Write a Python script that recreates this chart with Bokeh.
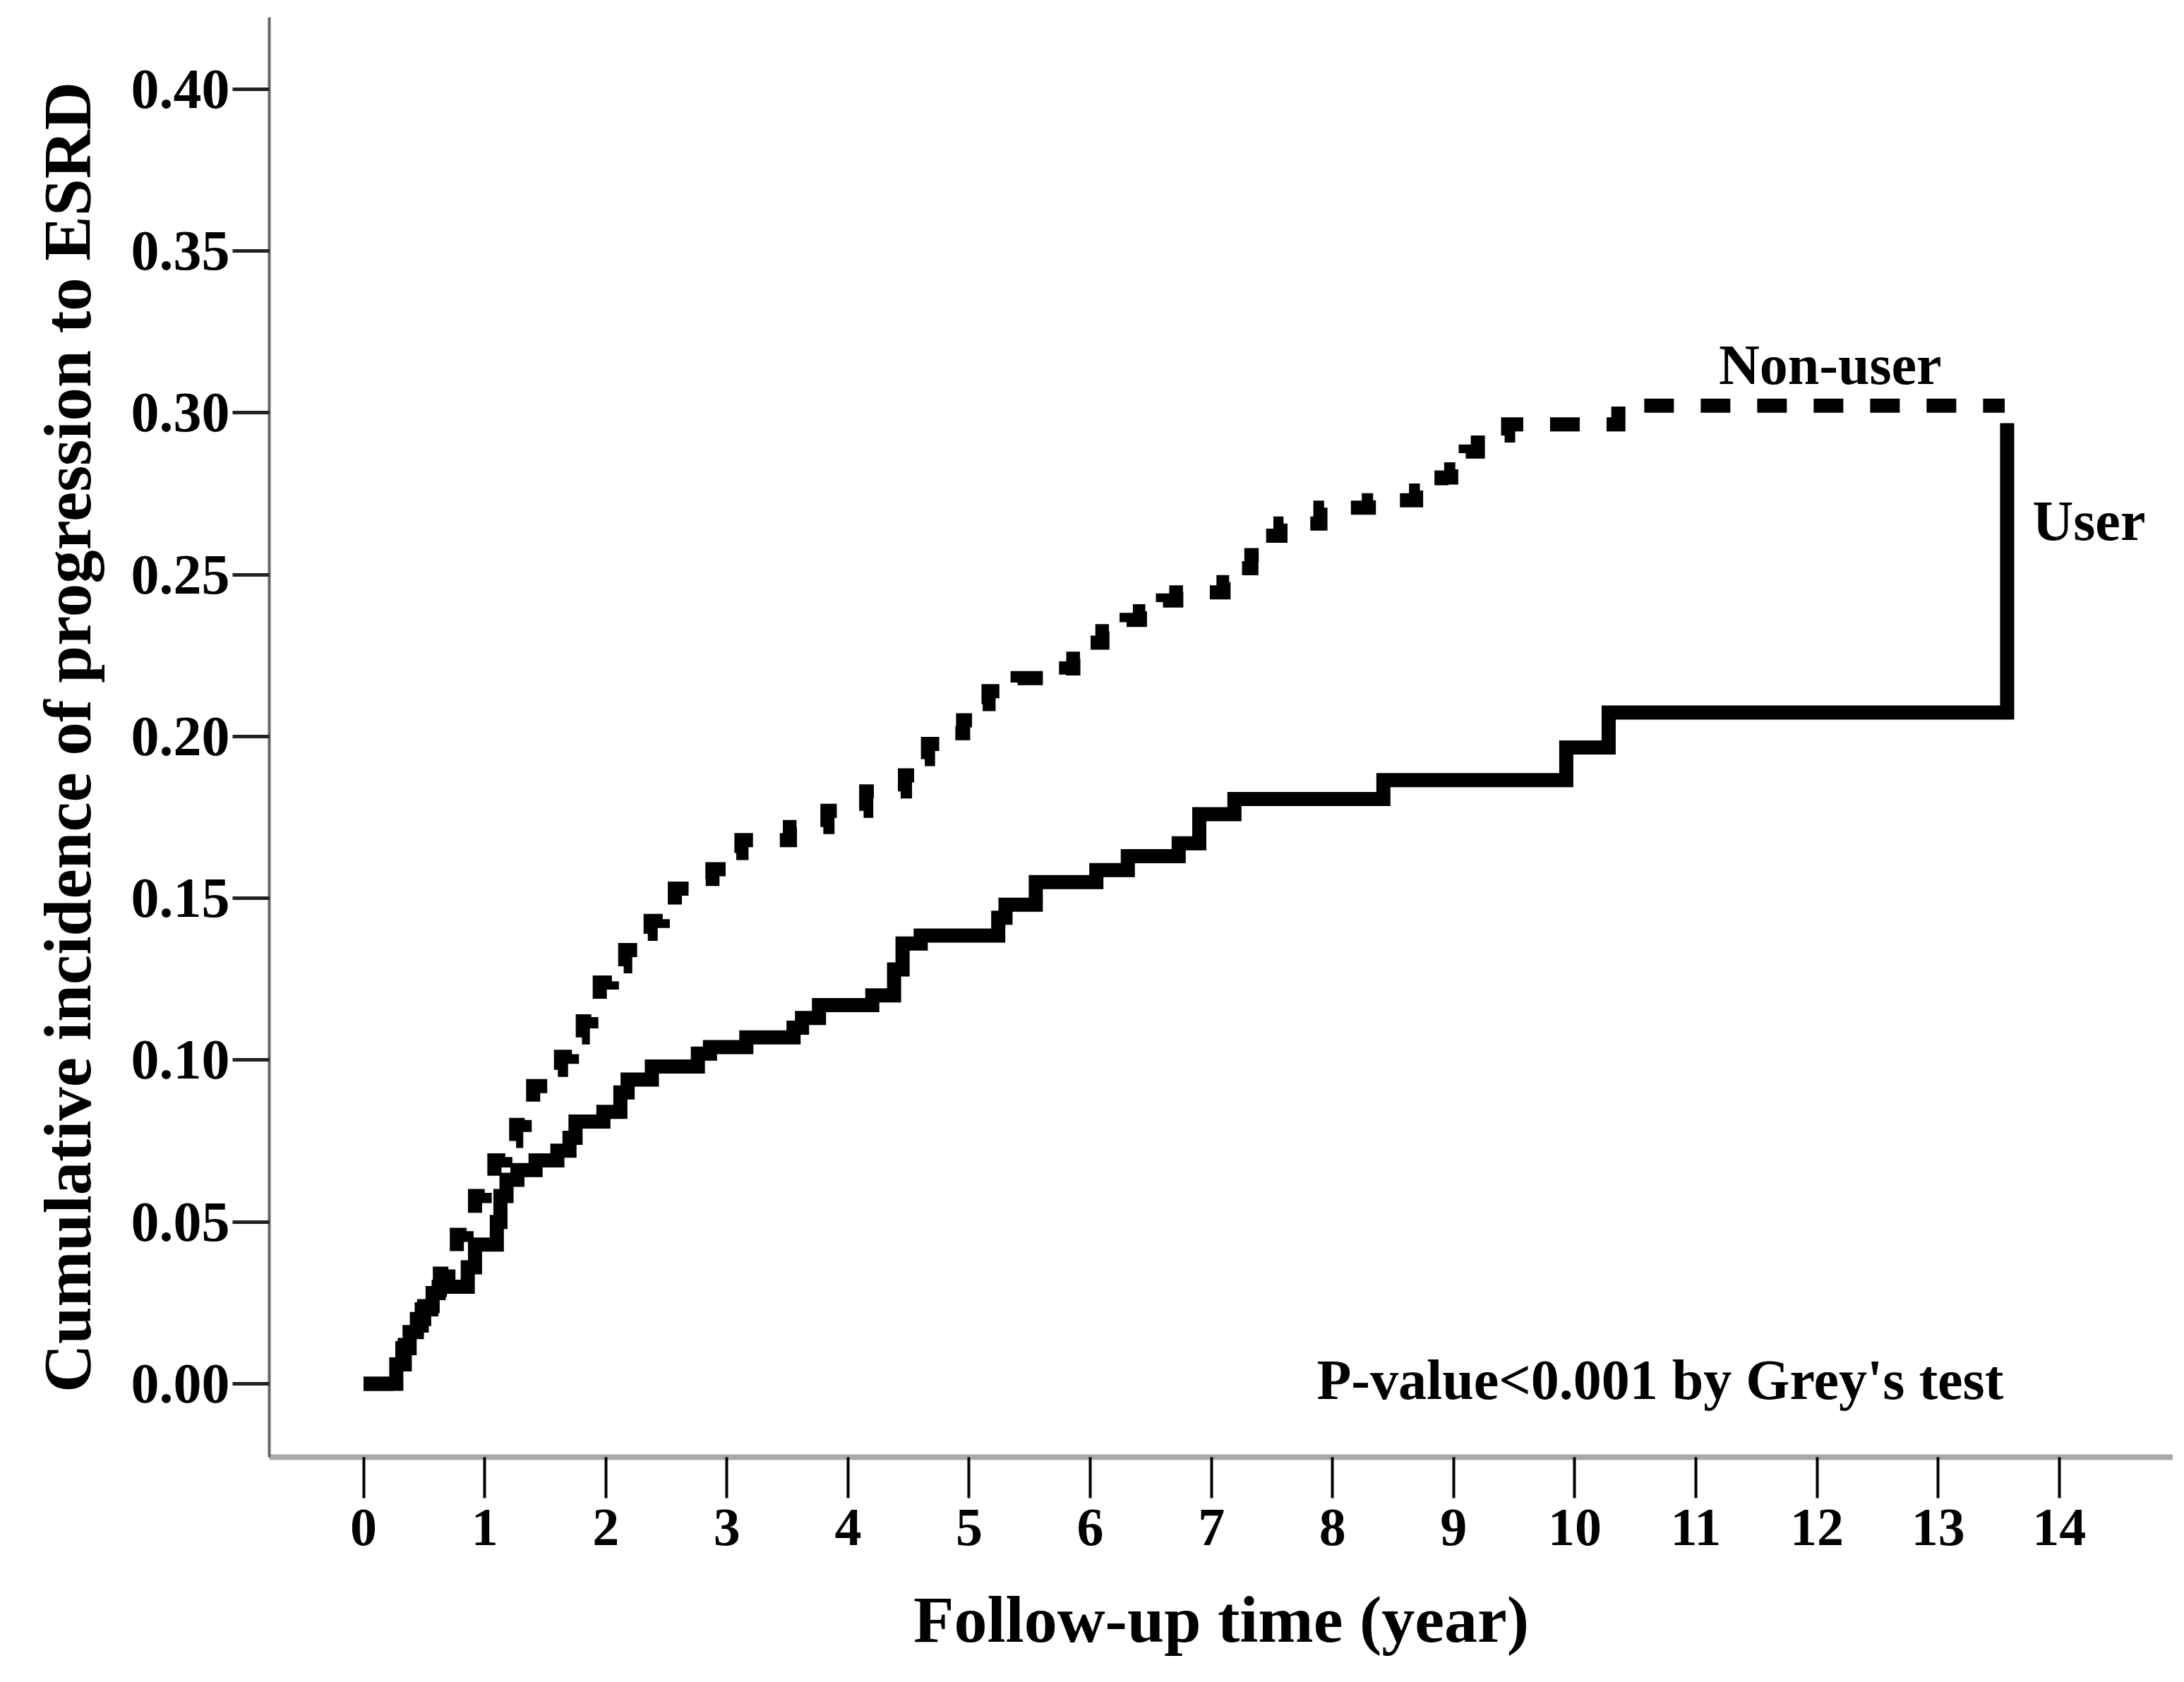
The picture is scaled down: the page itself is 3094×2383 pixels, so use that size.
from bokeh.plotting import figure
from bokeh.models import Range1d, FixedTicker, PrintfTickFormatter
from bokeh.core.properties import value
from bokeh.embed import file_html
from bokeh.resources import INLINE

# ---- data ----
user_t = [0.00, 0.27, 0.32, 0.38, 0.44, 0.50, 0.57, 0.62, 0.86, 0.92, 1.10, 1.13, 1.18,
          1.27, 1.42, 1.60, 1.70, 1.75, 1.98, 2.12, 2.18, 2.38, 2.76, 2.86, 3.16, 3.55,
          3.62, 3.76, 4.20, 4.38, 4.45, 4.60, 5.24, 5.30, 5.55, 6.05, 6.31, 6.73, 6.90,
          7.19, 8.42, 9.93, 10.28, 13.57]
user_v = [0.000, 0.006, 0.011, 0.016, 0.020, 0.024, 0.028, 0.030, 0.036, 0.043, 0.050,
          0.058, 0.063, 0.066, 0.069, 0.072, 0.076, 0.081, 0.084, 0.090, 0.094, 0.098,
          0.102, 0.104, 0.107, 0.110, 0.113, 0.117, 0.120, 0.128, 0.136, 0.1385, 0.144,
          0.148, 0.155, 0.1587, 0.163, 0.167, 0.176, 0.1807, 0.1865, 0.1966, 0.2074, 0.2968]

nonuser_t = [0.00, 0.27, 0.34, 0.41, 0.48, 0.56, 0.63, 0.70, 0.77, 0.85, 0.92, 1.00, 1.08,
             1.17, 1.26, 1.33, 1.40, 1.52, 1.63, 1.72, 1.81, 1.88, 1.95, 2.05, 2.16, 2.27,
             2.37, 2.47, 2.57, 2.72, 2.88, 3.00, 3.12, 3.52, 3.83, 4.15, 4.47, 4.58, 4.66,
             4.85, 4.95, 5.08, 5.16, 5.40, 5.80, 5.86, 6.00, 6.10, 6.30, 6.41, 6.60, 6.71,
             7.10, 7.25, 7.33, 7.45, 7.57, 7.90, 8.30, 8.69, 8.90, 8.98, 9.10, 9.20, 9.45,
             10.36, 13.55]
nonuser_v = [0.000, 0.006, 0.012, 0.018, 0.023, 0.029, 0.034, 0.040, 0.046, 0.052, 0.058,
             0.064, 0.069, 0.075, 0.080, 0.086, 0.092, 0.097, 0.101, 0.107, 0.112, 0.118,
             0.124, 0.129, 0.134, 0.139, 0.143, 0.148, 0.153, 0.156, 0.159, 0.164, 0.168,
             0.172, 0.177, 0.183, 0.188, 0.193, 0.1977, 0.201, 0.205, 0.210, 0.214, 0.218,
             0.221, 0.224, 0.229, 0.2325, 0.236, 0.2387, 0.242, 0.2445, 0.2477, 0.252,
             0.256, 0.262, 0.2658, 0.2707, 0.273, 0.276, 0.280, 0.2825, 0.288, 0.293,
             0.2964, 0.3022, 0.3022]

x_ticks = list(range(0, 15))
y_ticks = [0.00, 0.05, 0.10, 0.15, 0.20, 0.25, 0.30, 0.35, 0.40]

FONT = "Liberation Serif"

p = figure(width=3078, height=2376, output_backend="svg", toolbar_location=None,
           x_range=Range1d(-0.7786, 14.94), y_range=Range1d(-0.02268, 0.4222),
           min_border_left=381, min_border_top=24, min_border_bottom=312,
           min_border_right=0)
p.background_fill_color = "white"
p.border_fill_color = "white"
p.outline_line_color = None
p.grid.visible = False

# curves
p.step(nonuser_t, nonuser_v, mode="after", line_color="black", line_width=20,
       line_dash="42 38", line_join="miter", line_cap="butt")
p.step(user_t, user_v, mode="after", line_color="black", line_width=20,
       line_join="miter", line_cap="butt")

# annotations
p.text(x=[11.19], y=[0.3147], text=["Non-user"], text_font=value(FONT),
       text_font_style="bold", text_font_size="80px", text_color="black",
       text_align="left", text_baseline="alphabetic")
p.text(x=[13.78], y=[0.2667], text=["User"], text_font=value(FONT),
       text_font_style="bold", text_font_size="80px", text_color="black",
       text_align="left", text_baseline="alphabetic")
p.text(x=[7.87], y=[0.0011], text=["P-value<0.001 by Grey's test"], text_font=value(FONT),
       text_font_style="bold", text_font_size="80px", text_color="black",
       text_align="left", text_baseline="alphabetic")

# x axis
xa = p.xaxis[0]
xa.ticker = FixedTicker(ticks=x_ticks)
xa.minor_tick_line_color = None
xa.axis_line_color = "#a9a9a9"
xa.axis_line_width = 8
xa.major_tick_in = 0
xa.major_tick_out = 58
xa.major_tick_line_width = 4
xa.major_tick_line_color = "black"
xa.major_label_text_font = FONT
xa.major_label_text_font_style = "bold"
xa.major_label_text_font_size = "76px"
xa.major_label_text_color = "black"
xa.major_label_standoff = 16
xa.axis_label = "Follow-up time (year)"
xa.axis_label_text_font = FONT
xa.axis_label_text_font_style = "bold"
xa.axis_label_text_font_size = "94px"
xa.axis_label_text_color = "black"
xa.axis_label_standoff = 50

# y axis
ya = p.yaxis[0]
ya.ticker = FixedTicker(ticks=y_ticks)
ya.formatter = PrintfTickFormatter(format="%.2f")
ya.minor_tick_line_color = None
ya.axis_line_color = "#666666"
ya.axis_line_width = 4
ya.major_tick_in = 0
ya.major_tick_out = 52
ya.major_tick_line_width = 5
ya.major_tick_line_color = "#222222"
ya.major_label_text_font = FONT
ya.major_label_text_font_style = "bold"
ya.major_label_text_font_size = "80px"
ya.major_label_text_color = "black"
ya.major_label_standoff = 4
ya.axis_label = "Cumulative incidence of progression to ESRD"
ya.axis_label_text_font = FONT
ya.axis_label_text_font_style = "bold"
ya.axis_label_text_font_size = "95px"
ya.axis_label_text_color = "black"
ya.axis_label_standoff = 34

open("out.html", "w").write(file_html(p, INLINE))
